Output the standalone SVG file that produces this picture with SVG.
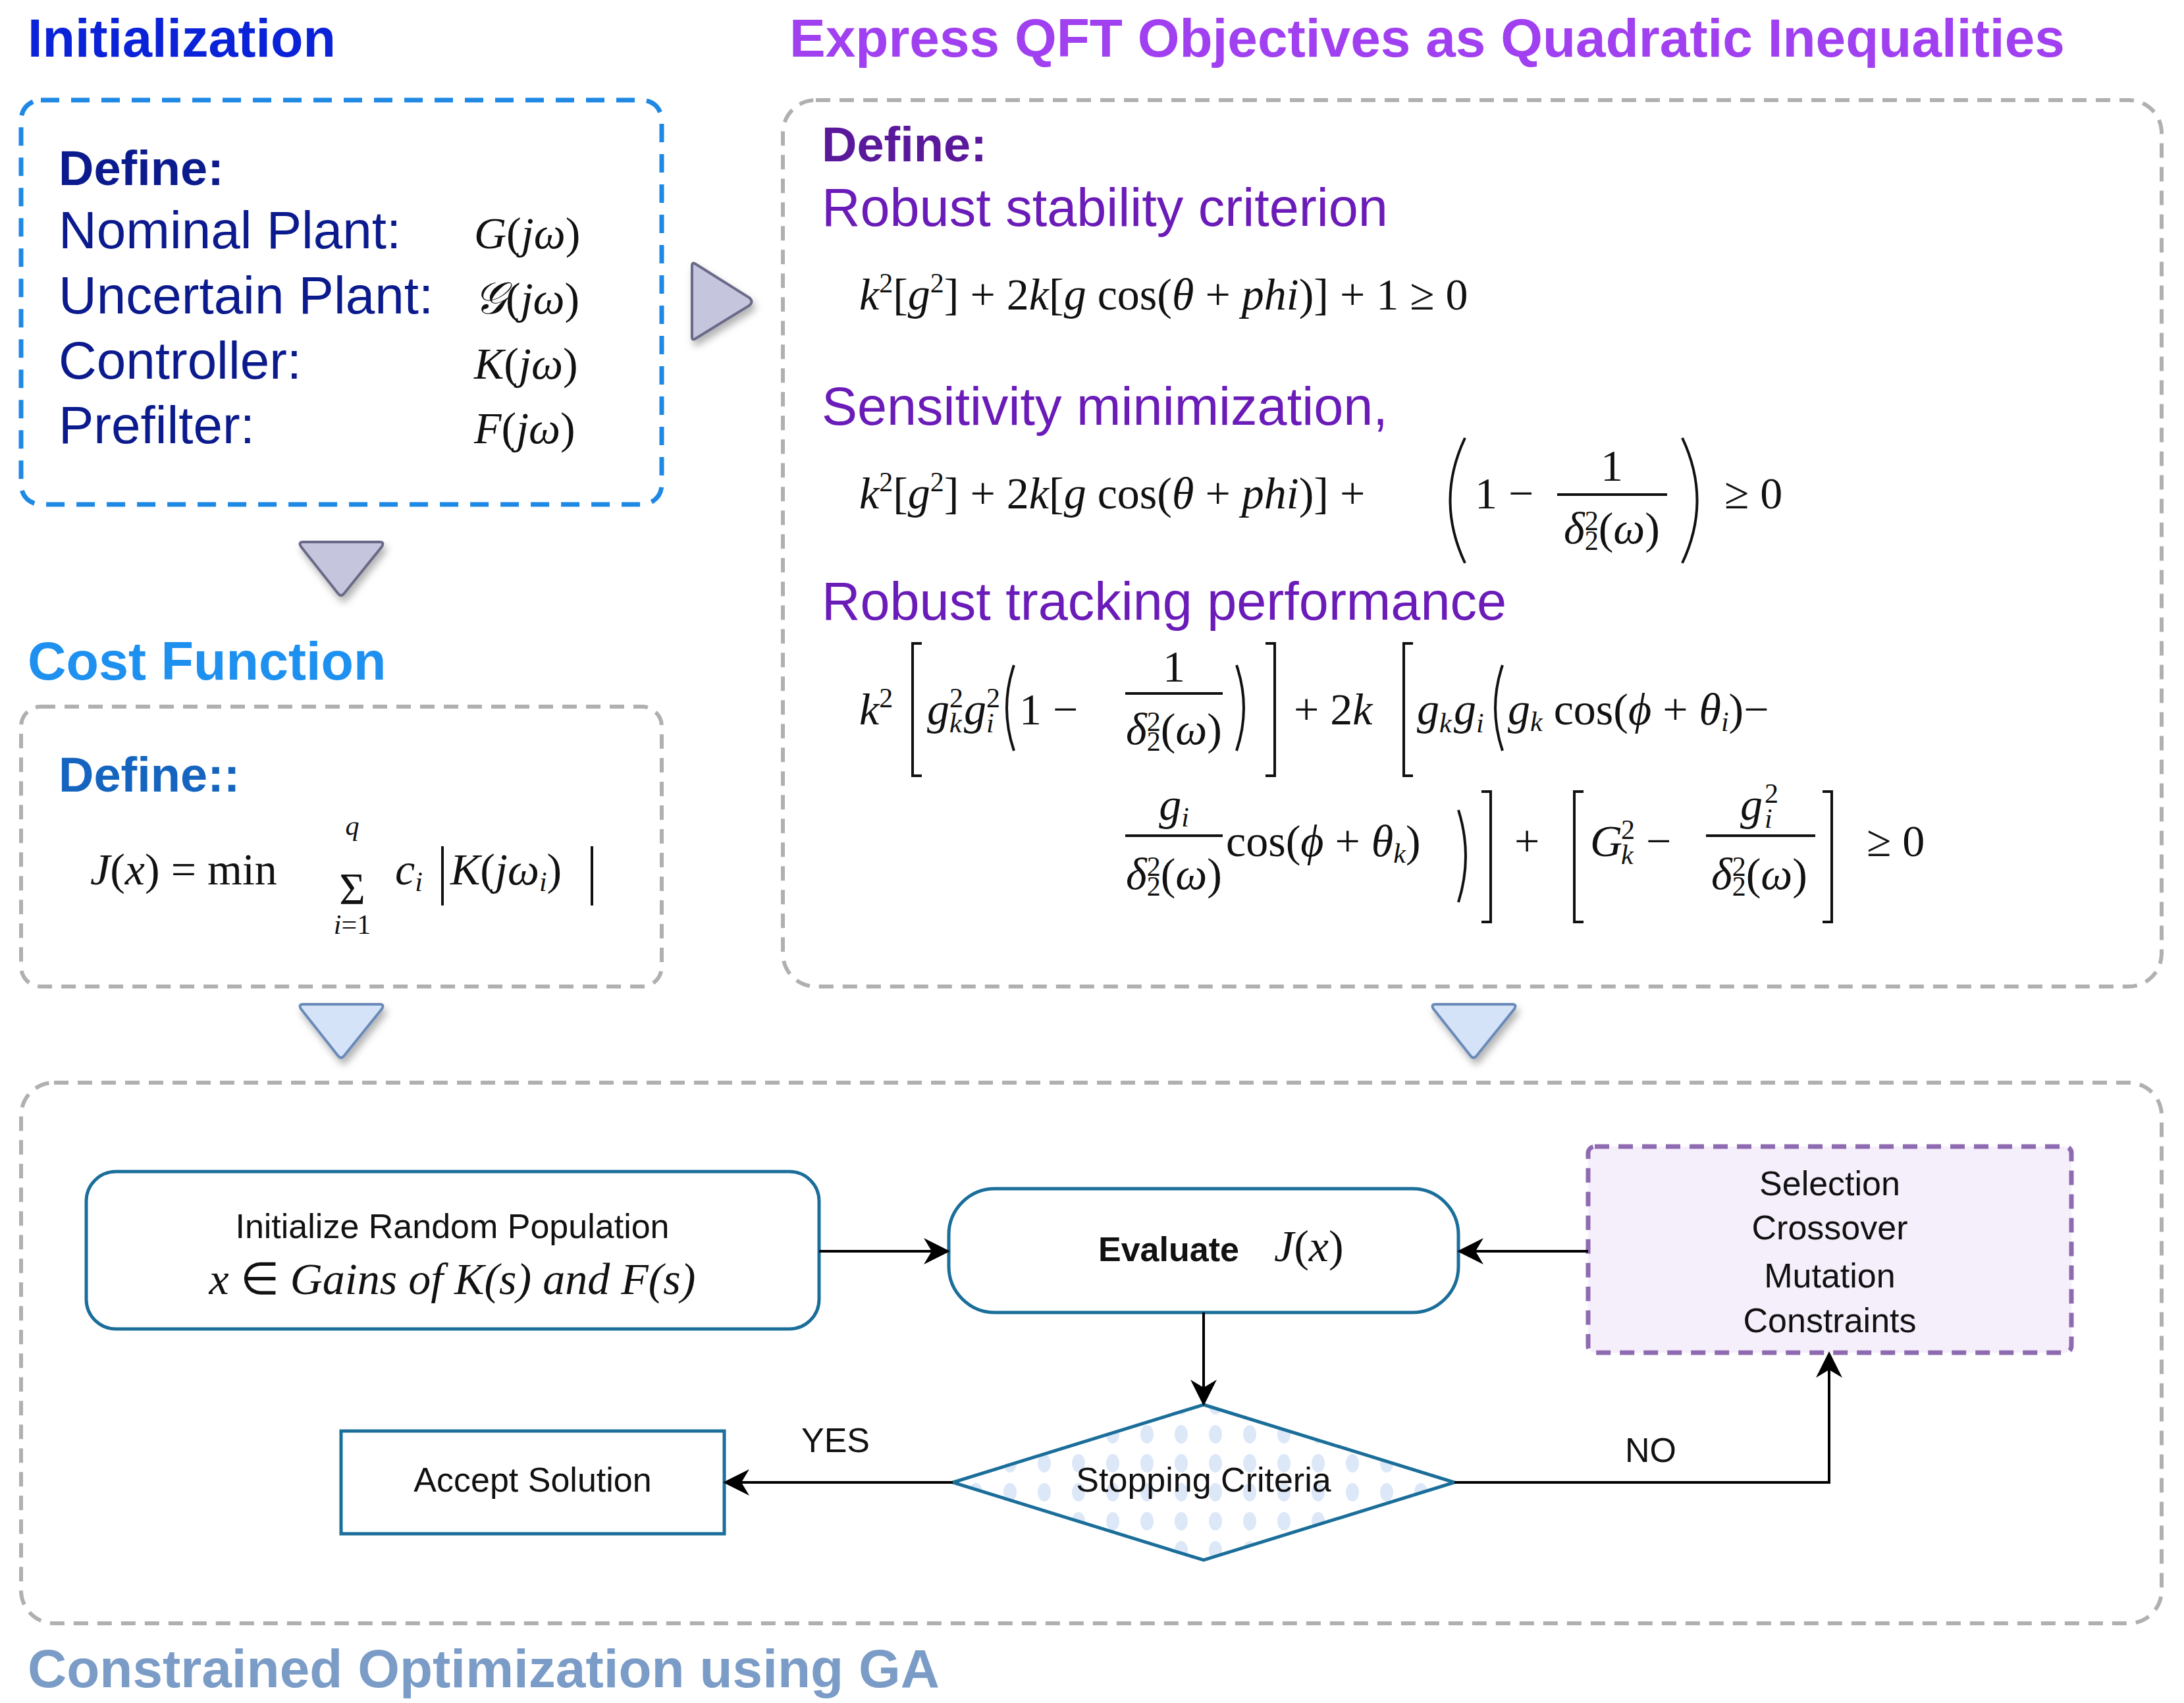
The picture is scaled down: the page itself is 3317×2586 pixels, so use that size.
<svg xmlns="http://www.w3.org/2000/svg" width="3317" height="2586" viewBox="0 0 3317 2586">
<defs>
<filter id="sh" x="-30%" y="-30%" width="160%" height="160%"><feDropShadow dx="4" dy="8" stdDeviation="6" flood-color="#000" flood-opacity="0.3"/></filter>
<pattern id="dots" width="52" height="44" patternUnits="userSpaceOnUse"><ellipse cx="26" cy="22" rx="10" ry="14" fill="#DCE8F8"/></pattern>
<marker id="ahb" viewBox="0 0 20 20" refX="18" refY="10" markerWidth="40" markerHeight="40" markerUnits="userSpaceOnUse" orient="auto"><path d="M0,0 L20,10 L0,20 L6,10 Z" fill="#000"/></marker>
</defs>
<style>
.t{font-family:"Liberation Sans",Arial,sans-serif}
.b{font-weight:bold}
.m{font-family:"Liberation Serif","Times New Roman",serif;font-size:68px;fill:#111}
.i{font-style:italic}
.s{font-size:42px}
.br{fill:none;stroke:#111;stroke-width:4}
.grey{fill:none;stroke:#B0B0B0;stroke-width:6;stroke-dasharray:22 14}
.fc{font-family:"Liberation Sans",Arial,sans-serif;font-size:52px;fill:#111}
</style>
<rect width="3317" height="2586" fill="#fff"/>

<g id="init">
<text class="t b" x="42" y="86" font-size="81" fill="#0A22D8">Initialization</text>
<rect x="32" y="152" width="973" height="614" rx="30" fill="none" stroke="#1E88E5" stroke-width="7" stroke-dasharray="28 18"/>
<text class="t b" x="89" y="281" font-size="74" fill="#0B1A8C">Define:</text>
<g class="t" font-size="80" fill="#0B1A8C">
<text x="89" y="377">Nominal Plant:</text>
<text x="89" y="476">Uncertain Plant:</text>
<text x="89" y="575">Controller:</text>
<text x="89" y="673">Prefilter:</text>
</g>
<g class="m">
<text x="720" y="377"><tspan class="i">G</tspan>(<tspan class="i">jω</tspan>)</text>
<text x="720" y="476"><tspan class="i" font-family="'DejaVu Serif',serif">𝒢</tspan>(<tspan class="i">jω</tspan>)</text>
<text x="720" y="575"><tspan class="i">K</tspan>(<tspan class="i">jω</tspan>)</text>
<text x="720" y="673"><tspan class="i">F</tspan>(<tspan class="i">jω</tspan>)</text>
</g>
</g>

<g id="cost">
<text class="t b" x="42" y="1032" font-size="81" fill="#1E90F0">Cost Function</text>
<rect x="32" y="1073" width="973" height="425" rx="30" class="grey"/>
<text class="t b" x="89" y="1202" font-size="74" fill="#1565C0">Define::</text>
<text class="m" x="137" y="1343"><tspan class="i">J</tspan>(<tspan class="i">x</tspan>) = min</text>
<text class="m" x="535" y="1372" font-size="115" text-anchor="middle">Σ</text>
<text class="m i s" x="535" y="1268" text-anchor="middle">q</text>
<text class="m s" x="535" y="1418" text-anchor="middle"><tspan class="i">i</tspan>=1</text>
<text class="m" x="600" y="1343"><tspan class="i">c</tspan><tspan class="i s" dy="10">i</tspan></text>
<path class="br" d="M672,1285 V1375 M899,1285 V1375"/>
<text class="m" x="684" y="1343"><tspan class="i">K</tspan>(<tspan class="i">jω</tspan><tspan class="i s" dy="10">i</tspan><tspan dy="-10">)</tspan></text>
</g>

<g id="qft">
<text class="t b" x="1199" y="86" font-size="82" fill="#A040F0">Express QFT Objectives as Quadratic Inequalities</text>
<rect x="1189" y="152" width="2094" height="1346" rx="50" class="grey"/>
<text class="t b" x="1248" y="245" font-size="74" fill="#5A189A">Define:</text>
<g class="t" font-size="81" fill="#6A1BB8">
<text x="1248" y="343">Robust stability criterion</text>
<text x="1248" y="645">Sensitivity minimization,</text>
<text x="1248" y="941">Robust tracking performance</text>
</g>
<text class="m" x="1305" y="470"><tspan class="i">k</tspan><tspan class="s" dy="-26">2</tspan><tspan dy="26">[</tspan><tspan class="i">g</tspan><tspan class="s" dy="-26">2</tspan><tspan dy="26">] + 2</tspan><tspan class="i">k</tspan>[<tspan class="i">g</tspan> cos(<tspan class="i">θ</tspan> + <tspan class="i">phi</tspan>)] + 1 ≥ 0</text>
<text class="m" x="1305" y="772"><tspan class="i">k</tspan><tspan class="s" dy="-26">2</tspan><tspan dy="26">[</tspan><tspan class="i">g</tspan><tspan class="s" dy="-26">2</tspan><tspan dy="26">] + 2</tspan><tspan class="i">k</tspan>[<tspan class="i">g</tspan> cos(<tspan class="i">θ</tspan> + <tspan class="i">phi</tspan>)] +</text>
<path class="br" d="M2225,665 Q2180,760 2225,855 M2555,665 Q2600,760 2555,855"/>
<text class="m" x="2240" y="772">1 −</text>
<text class="m" x="2448" y="730" text-anchor="middle">1</text>
<line x1="2365" y1="751" x2="2532" y2="751" stroke="#111" stroke-width="4"/>
<text class="m" x="2448" y="825" text-anchor="middle"><tspan class="i">δ</tspan><tspan class="s" dy="10">2</tspan><tspan class="s" dy="-30" dx="-21">2</tspan><tspan dy="20">(</tspan><tspan class="i">ω</tspan>)</text>
<text class="m" x="2619" y="772">≥ 0</text>

<text class="m" x="1305" y="1100"><tspan class="i">k</tspan><tspan class="s" dy="-26">2</tspan></text>
<path class="br" d="M1400,977 H1386 V1178 H1400 M1922,977 H1936 V1178 H1922"/>
<text class="m i" x="1408" y="1100">g</text><text class="m s" x="1442" y="1074">2</text><text class="m s i" x="1442" y="1112">k</text>
<text class="m i" x="1464" y="1100">g</text><text class="m s" x="1498" y="1074">2</text><text class="m s i" x="1498" y="1112">i</text>
<path class="br" d="M1540,1010 Q1518,1075 1540,1140 M1878,1010 Q1900,1075 1878,1140"/>
<text class="m" x="1548" y="1100">1 −</text>
<text class="m" x="1783" y="1035" text-anchor="middle">1</text>
<line x1="1709" y1="1053" x2="1857" y2="1053" stroke="#111" stroke-width="4"/>
<text class="m" x="1783" y="1130" text-anchor="middle"><tspan class="i">δ</tspan><tspan class="s" dy="10">2</tspan><tspan class="s" dy="-30" dx="-21">2</tspan><tspan dy="20">(</tspan><tspan class="i">ω</tspan>)</text>
<text class="m" x="1965" y="1100">+ 2<tspan class="i">k</tspan></text>
<path class="br" d="M2146,977 H2132 V1178 H2146"/>
<text class="m i" x="2152" y="1100">g</text><text class="m s i" x="2186" y="1112">k</text>
<text class="m i" x="2208" y="1100">g</text><text class="m s i" x="2242" y="1112">i</text>
<path class="br" d="M2282,1010 Q2260,1075 2282,1140"/>
<text class="m" x="2290" y="1100"><tspan class="i">g</tspan><tspan class="s i" dy="10">k</tspan><tspan dy="-10"> cos(</tspan><tspan class="i">ϕ</tspan> + <tspan class="i">θ</tspan><tspan class="s i" dy="10">i</tspan><tspan dy="-10">)−</tspan></text>

<text class="m i" x="1783" y="1245" text-anchor="middle">g<tspan class="s" dy="10">i</tspan></text>
<line x1="1709" y1="1269" x2="1857" y2="1269" stroke="#111" stroke-width="4"/>
<text class="m" x="1783" y="1350" text-anchor="middle"><tspan class="i">δ</tspan><tspan class="s" dy="10">2</tspan><tspan class="s" dy="-30" dx="-21">2</tspan><tspan dy="20">(</tspan><tspan class="i">ω</tspan>)</text>
<text class="m" x="1862" y="1300">cos(<tspan class="i">ϕ</tspan> + <tspan class="i">θ</tspan><tspan class="s i" dy="10">k</tspan><tspan dy="-10">)</tspan></text>
<path class="br" d="M2215,1230 Q2237,1300 2215,1370 M2250,1202 H2264 V1400 H2250"/>
<text class="m" x="2300" y="1300">+</text>
<path class="br" d="M2405,1202 H2391 V1400 H2405 M2768,1202 H2782 V1400 H2768"/>
<text class="m i" x="2415" y="1300">G</text><text class="m s" x="2462" y="1274">2</text><text class="m s i" x="2462" y="1312">k</text>
<text class="m" x="2500" y="1300">−</text>
<text class="m i" x="2660" y="1245" text-anchor="middle">g</text><text class="m s" x="2680" y="1219">2</text><text class="m s i" x="2680" y="1257">i</text>
<line x1="2591" y1="1269" x2="2757" y2="1269" stroke="#111" stroke-width="4"/>
<text class="m" x="2672" y="1350" text-anchor="middle"><tspan class="i">δ</tspan><tspan class="s" dy="10">2</tspan><tspan class="s" dy="-30" dx="-21">2</tspan><tspan dy="20">(</tspan><tspan class="i">ω</tspan>)</text>
<text class="m" x="2835" y="1300">≥ 0</text>
</g>

<g id="arrows-big" filter="url(#sh)">
<path d="M1055,400 L1138,452 Q1145,458 1138,464 L1055,515 Q1051,517 1051,512 V404 Q1051,398 1055,400 Z" fill="#C5C5DD" stroke="#6A6A88" stroke-width="4"/>
<path d="M460,823 H577 Q584,823 580,830 L522,902 Q518,906 514,902 L457,830 Q453,823 460,823 Z" fill="#C5C5DD" stroke="#6A6A88" stroke-width="4"/>
<path d="M460,1525 H577 Q584,1525 580,1532 L522,1604 Q518,1608 514,1604 L457,1532 Q453,1525 460,1525 Z" fill="#D5E3F8" stroke="#6A8AB8" stroke-width="4"/>
<path d="M2180,1525 H2297 Q2304,1525 2300,1532 L2242,1604 Q2238,1608 2234,1604 L2177,1532 Q2173,1525 2180,1525 Z" fill="#D5E3F8" stroke="#6A8AB8" stroke-width="4"/>
</g>

<g id="ga">
<rect x="32" y="1644" width="3251" height="821" rx="50" class="grey"/>
<text class="t b" x="42" y="2562" font-size="82" fill="#7A9CC6">Constrained Optimization using GA</text>
</g>

<g id="initpop">
<rect x="131" y="1779" width="1113" height="239" rx="45" fill="#fff" stroke="#1A6E99" stroke-width="5"/>
<text class="fc" x="687" y="1880" text-anchor="middle">Initialize Random Population</text>
<text class="m i" x="687" y="1965" text-anchor="middle" font-size="62">x <tspan font-style="normal">∈</tspan> Gains of K(s) and F(s)</text>
</g>
<g id="evaluate">
<rect x="1441" y="1805" width="774" height="188" rx="70" fill="#fff" stroke="#1A6E99" stroke-width="5"/>
<text class="fc b" x="1668" y="1915">Evaluate</text>
<text class="m i" x="1935" y="1915">J<tspan font-style="normal">(</tspan>x<tspan font-style="normal">)</tspan></text>
</g>
<g id="selection">
<rect x="2412" y="1741" width="734" height="313" rx="10" fill="#F5EEFB" stroke="#8E6BB0" stroke-width="7" stroke-dasharray="22 14"/>
<g class="fc" text-anchor="middle">
<text x="2779" y="1815">Selection</text>
<text x="2779" y="1882">Crossover</text>
<text x="2779" y="1955">Mutation</text>
<text x="2779" y="2023">Constraints</text>
</g>
</g>
<g id="stopping">
<path d="M1828,2133 L2209,2251 L1828,2369 L1447,2251 Z" fill="url(#dots)" stroke="#1A6E99" stroke-width="5"/>
<text class="fc" x="1828" y="2265" text-anchor="middle">Stopping Criteria</text>
</g>
<g id="accept">
<rect x="518" y="2173" width="582" height="156" fill="#fff" stroke="#1A6E99" stroke-width="5"/>
<text class="fc" x="809" y="2265" text-anchor="middle">Accept Solution</text>
</g>

<g id="connectors" fill="none" stroke="#000" stroke-width="4">
<line x1="1244" y1="1900" x2="1439" y2="1900" marker-end="url(#ahb)"/>
<line x1="2412" y1="1900" x2="2217" y2="1900" marker-end="url(#ahb)"/>
<line x1="1828" y1="1993" x2="1828" y2="2131" marker-end="url(#ahb)"/>
<line x1="1447" y1="2251" x2="1102" y2="2251" marker-end="url(#ahb)"/>
<polyline points="2209,2251 2778,2251 2778,2056" marker-end="url(#ahb)"/>
</g>
<text class="fc" x="1269" y="2205" text-anchor="middle">YES</text>
<text class="fc" x="2507" y="2220" text-anchor="middle">NO</text>
</svg>
